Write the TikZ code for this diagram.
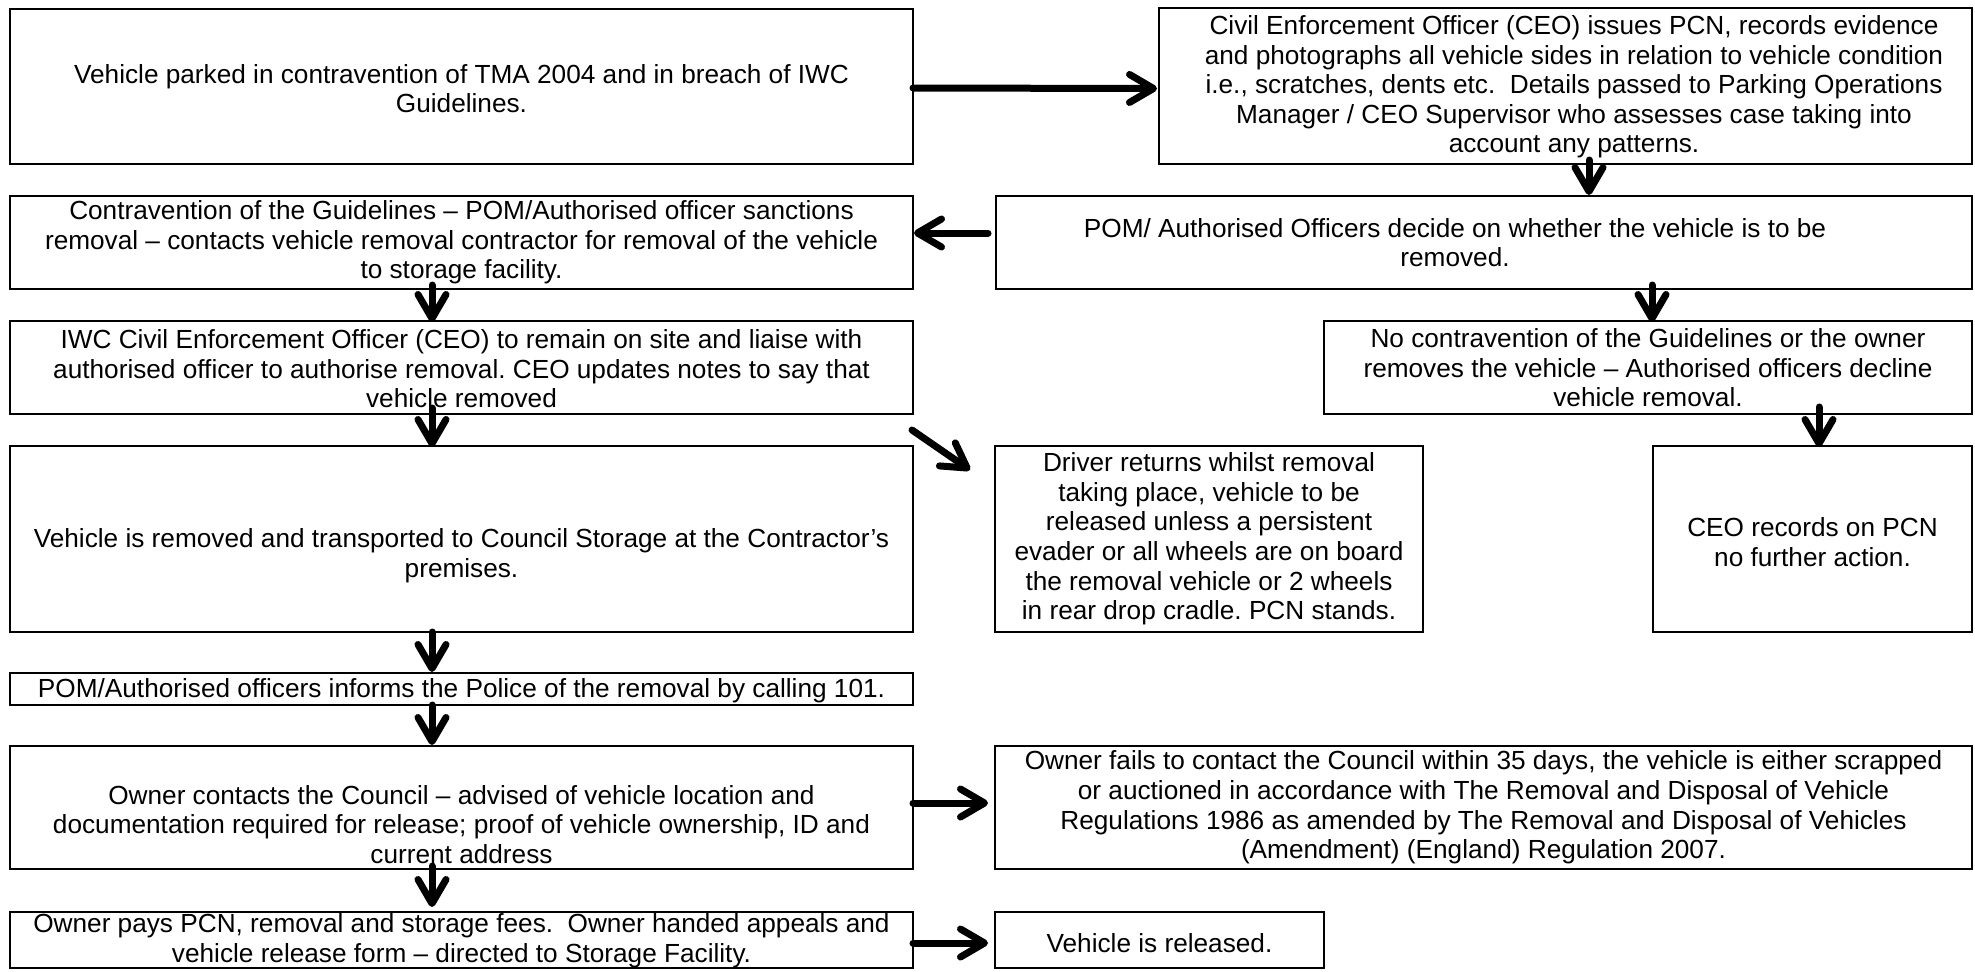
\documentclass[tikz,border=0pt]{standalone}
\usepackage{fontspec}
\setmainfont{Liberation Sans}
\usetikzlibrary{arrows.meta}
\frenchspacing
\begin{document}
\begin{tikzpicture}[x=0.5pt,y=-0.5pt,
  box/.style={draw=black,line width=0.85pt,inner sep=0pt,outer sep=0pt,rectangle},
  txt/.style={align=center,inner sep=0pt,font=\fontsize{13.1pt}{14.8pt}\selectfont},
  arr/.style={line width=3.5pt,line cap=round,-{Straight Barb[length=12pt,width=14pt,round]}}]
\useasboundingbox (0,0) rectangle (1975,971);
% boxes
\node[box,minimum width=451.5pt,minimum height=77.5pt] (b1) at (461.5,86.5) {};
\node[box,minimum width=406.5pt,minimum height=78pt] (b2) at (1565.5,86) {};
\node[box,minimum width=451.5pt,minimum height=46.5pt] (b3) at (461.5,242.5) {};
\node[box,minimum width=488pt,minimum height=46.5pt] (b4) at (1484,242.5) {};
\node[box,minimum width=451.5pt,minimum height=46.5pt] (b5) at (461.5,367.5) {};
\node[box,minimum width=324pt,minimum height=46.5pt] (b6) at (1648,367.5) {};
\node[box,minimum width=451.5pt,minimum height=93pt] (b7) at (461.5,539) {};
\node[box,minimum width=214pt,minimum height=93pt] (b8) at (1209,539) {};
\node[box,minimum width=159.5pt,minimum height=93pt] (b9) at (1812.5,539) {};
\node[box,minimum width=451.5pt,minimum height=16pt] (b10) at (461.5,689) {};
\node[box,minimum width=451.5pt,minimum height=61.5pt] (b11) at (461.5,807.5) {};
\node[box,minimum width=488.5pt,minimum height=61.5pt] (b12) at (1483.5,807.5) {};
\node[box,minimum width=451.5pt,minimum height=28pt] (b13) at (461.5,940) {};
\node[box,minimum width=164.5pt,minimum height=28pt] (b14) at (1159.5,940) {};
% texts
\node[txt] (t1) at ([yshift=-1pt]b1.center) {Vehicle parked in contravention of TMA 2004 and in breach of IWC\\Guidelines.};
\node[txt] (t2) at ([shift={(4.25pt,-0.5pt)}]b2.center) {Civil Enforcement Officer (CEO) issues PCN, records evidence\\and photographs all vehicle sides in relation to vehicle condition\\i.e., scratches, dents etc.\ \ Details passed to Parking Operations\\Manager / CEO Supervisor who assesses case taking into\\account any patterns.};
\node[txt] (t3) at (b3.center) {Contravention of the Guidelines – POM/Authorised officer sanctions\\removal – contacts vehicle removal contractor for removal of the vehicle\\to storage facility.};
\node[txt] (t4) at ([xshift=-14.5pt]b4.center) {POM/ Authorised Officers decide on whether the vehicle is to be\\removed.};
\node[txt] (t5) at ([yshift=-0.75pt]b5.center) {IWC Civil Enforcement Officer (CEO) to remain on site and liaise with\\authorised officer to authorise removal. CEO updates notes to say that\\vehicle removed};
\node[txt] (t6) at ([yshift=-0.25pt]b6.center) {No contravention of the Guidelines or the owner\\removes the vehicle – Authorised officers decline\\vehicle removal.};
\node[txt] (t7) at ([yshift=-8.5pt]b7.center) {Vehicle is removed and transported to Council Storage at the Contractor’s\\premises.};
\node[txt] (t8) at (b8.center) {Driver returns whilst removal\\taking place, vehicle to be\\released unless a persistent\\evader or all wheels are on board\\the removal vehicle or 2 wheels\\in rear drop cradle. PCN stands.};
\node[txt] (t9) at ([yshift=-1.5pt]b9.center) {CEO records on PCN\\no further action.};
\node[txt] (t10) at ([yshift=-1pt]b10.center) {POM/Authorised officers informs the Police of the removal by calling 101.};
\node[txt] (t11) at ([yshift=-8.5pt]b11.center) {Owner contacts the Council – advised of vehicle location and\\documentation required for release; proof of vehicle ownership, ID and\\current address};
\node[txt] (t12) at (b12.center) {Owner fails to contact the Council within 35 days, the vehicle is either scrapped\\or auctioned in accordance with The Removal and Disposal of Vehicle\\Regulations 1986 as amended by The Removal and Disposal of Vehicles\\(Amendment) (England) Regulation 2007.};
\node[txt] (t13) at ([yshift=-0.5pt]b13.center) {Owner pays PCN, removal and storage fees.\ \ Owner handed appeals and\\vehicle release form – directed to Storage Facility.};
\node[txt] (t14) at ([yshift=-1.5pt]b14.center) {Vehicle is released.};
% arrows
\draw[arr] ([yshift=-0.75pt]b1.east) -- ([shift={(-1pt,-1.25pt)}]b2.west);
\draw[arr] ([shift={(-4pt,4.75pt)}]b4.west) -- ([shift={(0.5pt,4.75pt)}]b3.east);
\draw[arr] ([shift={(11.75pt,2pt)}]b2.south) -- ([shift={(52.5pt,0.5pt)}]b4.north);
\draw[arr] ([shift={(84pt,2pt)}]b4.south) -- ([shift={(2pt,-0.5pt)}]b6.north);
\draw[arr] ([shift={(-14.75pt,2pt)}]b3.south) -- ([shift={(-14.75pt,-0.5pt)}]b5.north);
\draw[arr] ([shift={(-14.75pt,3pt)}]b5.south) -- ([shift={(-14.75pt,-0.5pt)}]b7.north);
\draw[arr] ([shift={(85.5pt,3.5pt)}]b6.south) -- ([shift={(3.25pt,-0.5pt)}]b9.north);
\draw[arr] ([shift={(-0.5pt,-8pt)}]b5.south east) -- ([shift={(-12.5pt,-12pt)}]b8.north west);
\draw[arr] ([shift={(-14.75pt,0pt)}]b7.south) -- ([shift={(-14.75pt,0.5pt)}]b10.north);
\draw[arr] ([shift={(-14.75pt,0pt)}]b10.south) -- ([shift={(-14.75pt,0.5pt)}]b11.north);
\draw[arr] ([yshift=2.25pt]b11.east) -- ([shift={(-3.5pt,2.25pt)}]b12.west);
\draw[arr] ([shift={(-14.75pt,1.5pt)}]b11.south) -- ([shift={(-14.75pt,2.5pt)}]b13.north);
\draw[arr] ([yshift=-1.5pt]b13.east) -- ([shift={(-3.5pt,-1.5pt)}]b14.west);
\end{tikzpicture}
\end{document}
